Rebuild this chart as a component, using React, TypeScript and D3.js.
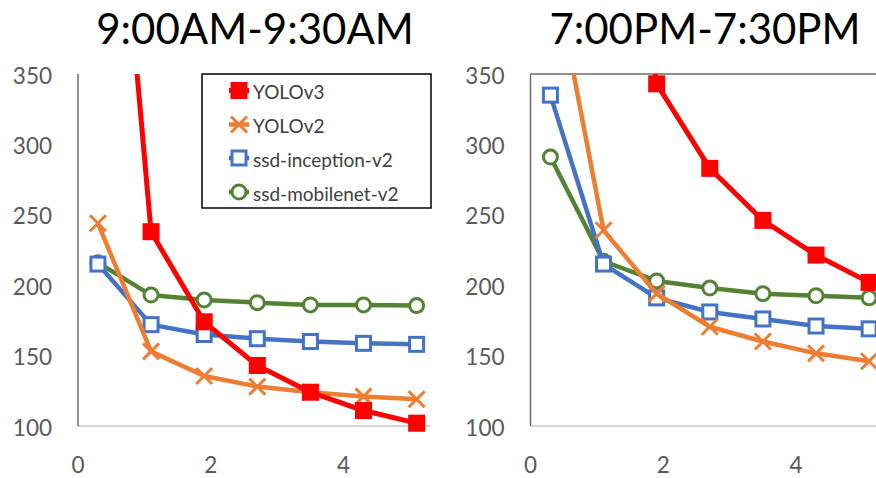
import React, { useEffect, useRef } from 'react'
import * as d3 from 'd3'

const xValues = [0.3, 1.1, 1.9, 2.7, 3.5, 4.3, 5.1]
const seriesNames = ['YOLOv3', 'YOLOv2', 'ssd-inception-v2', 'ssd-mobilenet-v2']
const seriesColors = ['#ff0000', '#ed7d31', '#4472c4', '#548235']
const seriesMarkers = ['filledSquare', 'cross', 'square', 'circle']

// 9:00AM-9:30AM
const morningYolov3 = [665, 238, 174, 143, 124, 111, 102]
const morningYolov2 = [244, 153, 135.5, 128, 124, 121, 119]
const morningInception = [215, 172, 165, 162, 160, 158.7, 158]
const morningMobilenet = [216, 193, 189.5, 187.6, 186, 186, 185.5]

// 7:00PM-7:30PM
const eveningYolov3 = [900, 600, 343, 283, 246, 221.4, 202]
const eveningYolov2 = [436, 239, 194, 170.5, 160, 151.6, 146]
const eveningInception = [335, 215, 191, 181, 176, 171, 169]
const eveningMobilenet = [291, 217, 203, 198, 194, 192.5, 191]

const panelTitles = ['9:00AM-9:30AM', '7:00PM-7:30PM']
const yTicks = [100, 150, 200, 250, 300, 350]
const xTicks = [0, 2, 4]

const font = 'Lato, "Open Sans", sans-serif'

const App = () => {
  const svgRef = useRef<SVGSVGElement | null>(null)

  useEffect(() => {
    const width = 876
    const height = 478
    const svg = d3.select(svgRef.current)
    svg.selectAll('*').remove()
    svg.attr('width', width).attr('height', height)

    const panels = [
      {
        title: panelTitles[0],
        left: 78,
        titleX: 255,
        series: [morningYolov3, morningYolov2, morningInception, morningMobilenet],
        topLine: false,
        legend: true,
      },
      {
        title: panelTitles[1],
        left: 530.5,
        titleX: 705,
        series: [eveningYolov3, eveningYolov2, eveningInception, eveningMobilenet],
        topLine: true,
        legend: false,
      },
    ]

    const plotTop = 74
    const plotBottom = 426
    const xMax = 5.31
    const unitPx = 66.4

    const yScale = d3.scaleLinear().domain([100, 350]).range([plotBottom, plotTop])

    const drawMarker = (g, kind, color, cx, cy) => {
      if (kind === 'filledSquare') {
        g.append('rect')
          .attr('x', cx - 8.5)
          .attr('y', cy - 8.5)
          .attr('width', 17)
          .attr('height', 17)
          .attr('fill', color)
      } else if (kind === 'square') {
        g.append('rect')
          .attr('x', cx - 7)
          .attr('y', cy - 7)
          .attr('width', 14)
          .attr('height', 14)
          .attr('fill', 'white')
          .attr('stroke', color)
          .attr('stroke-width', 3)
      } else if (kind === 'circle') {
        g.append('circle')
          .attr('cx', cx)
          .attr('cy', cy)
          .attr('r', 7)
          .attr('fill', 'white')
          .attr('stroke', color)
          .attr('stroke-width', 3)
      } else {
        const s = 8
        g.append('path')
          .attr('d', `M${cx - s},${cy - s}L${cx + s},${cy + s}M${cx - s},${cy + s}L${cx + s},${cy - s}`)
          .attr('stroke', color)
          .attr('stroke-width', 3)
      }
    }

    panels.forEach((p, pi) => {
      const xScale = d3
        .scaleLinear()
        .domain([0, xMax])
        .range([p.left, p.left + xMax * unitPx])
      const right = Math.min(xScale(xMax), width)

      svg.append('text')
        .attr('x', p.titleX)
        .attr('y', 44)
        .attr('text-anchor', 'middle')
        .style('font-family', font)
        .style('font-size', '42px')
        .style('fill', '#000')
        .text(p.title)

      // axis lines
      svg.append('line')
        .attr('x1', p.left)
        .attr('x2', right)
        .attr('y1', plotBottom)
        .attr('y2', plotBottom)
        .attr('stroke', '#c8c8c8')
        .attr('stroke-width', 1.5)
      svg.append('line')
        .attr('x1', p.left)
        .attr('x2', p.left)
        .attr('y1', plotTop)
        .attr('y2', plotBottom)
        .attr('stroke', '#6b6b6b')
        .attr('stroke-width', 1.5)
      if (p.topLine) {
        svg.append('line')
          .attr('x1', p.left)
          .attr('x2', right)
          .attr('y1', plotTop)
          .attr('y2', plotTop)
          .attr('stroke', '#6b6b6b')
          .attr('stroke-width', 1.5)
      }

      svg.append('g')
        .selectAll('text')
        .data(yTicks)
        .enter()
        .append('text')
        .attr('x', p.left - 26)
        .attr('y', (d) => yScale(d) + 1)
        .attr('text-anchor', 'end')
        .attr('dominant-baseline', 'central')
        .style('font-family', font)
        .style('font-size', '22.5px')
        .style('fill', '#595959')
        .text((d) => d)

      svg.append('g')
        .selectAll('text')
        .data(xTicks)
        .enter()
        .append('text')
        .attr('x', (d) => xScale(d))
        .attr('y', 473)
        .attr('text-anchor', 'middle')
        .style('font-family', font)
        .style('font-size', '22.5px')
        .style('fill', '#595959')
        .text((d) => d)

      const clipId = `clip-${pi}`
      svg.append('clipPath')
        .attr('id', clipId)
        .append('rect')
        .attr('x', p.left)
        .attr('y', plotTop)
        .attr('width', right - p.left + 20)
        .attr('height', plotBottom - plotTop + 20)

      const line = d3
        .line<number>()
        .x((d, i) => xScale(xValues[i]))
        .y((d) => yScale(d))

      // draw in reverse so YOLOv3 sits on top
      const order = [3, 2, 1, 0]
      order.forEach((si) => {
        const values = p.series[si]
        const color = seriesColors[si]
        svg.append('path')
          .datum(values)
          .attr('clip-path', `url(#${clipId})`)
          .attr('d', line)
          .attr('fill', 'none')
          .attr('stroke', color)
          .attr('stroke-width', si === 0 ? 5 : 4.5)
          .attr('stroke-linejoin', 'round')
        const mg = svg.append('g')
        values.forEach((v, i) => {
          if (v > 350) return
          drawMarker(mg, seriesMarkers[si], color, xScale(xValues[i]), yScale(v))
        })
      })

      if (p.legend) {
        const lg = svg.append('g')
        lg.append('rect')
          .attr('x', 202)
          .attr('y', 74)
          .attr('width', 229)
          .attr('height', 134)
          .attr('fill', 'white')
          .attr('stroke', '#000')
          .attr('stroke-width', 1.5)
        const rowY = [90.5, 124.5, 158, 192]
        seriesNames.forEach((name, si) => {
          const cy = rowY[si]
          lg.append('line')
            .attr('x1', 229)
            .attr('x2', 249)
            .attr('y1', cy)
            .attr('y2', cy)
            .attr('stroke', seriesColors[si])
            .attr('stroke-width', si === 0 ? 5 : 4.5)
          drawMarker(lg, seriesMarkers[si], seriesColors[si], 239, cy)
          lg.append('text')
            .attr('x', 253)
            .attr('y', cy + 1)
            .attr('dominant-baseline', 'central')
            .style('font-family', font)
            .style('font-size', '19px')
            .style('fill', '#404040')
            .text(name)
        })
      }
    })
  }, [])

  return (
    <div style={{ position: 'absolute', left: 0, top: 0, background: 'white' }}>
      <svg ref={svgRef} style={{ display: 'block' }}></svg>
    </div>
  )
}

export default App
